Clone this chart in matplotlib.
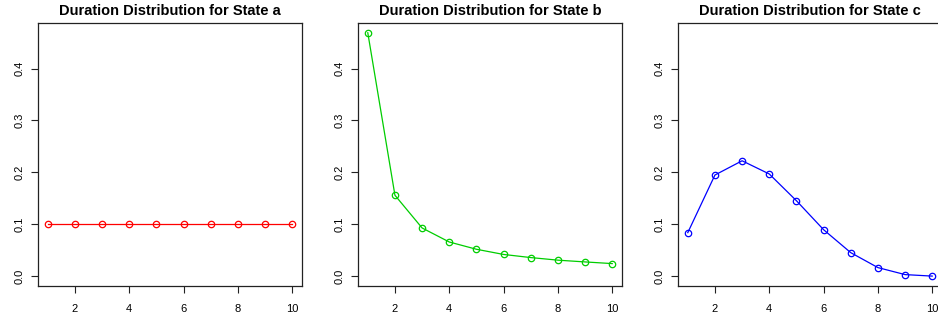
import numpy as np
import matplotlib
matplotlib.use("Agg")
from matplotlib import pyplot as plt

plt.rcParams["font.family"] = ["Liberation Sans", "DejaVu Sans"]

# duracao (eixo x) e probabilidades de cada estado
duracao = [1, 2, 3, 4, 5, 6, 7, 8, 9, 10]
estado_a = [0.1, 0.1, 0.1, 0.1, 0.1, 0.1, 0.1, 0.1, 0.1, 0.1]
estado_b = [0.469, 0.156, 0.093, 0.066, 0.052, 0.042, 0.036, 0.031, 0.0276, 0.0244]
estado_c = [0.084, 0.195, 0.2224, 0.197, 0.1455, 0.0897, 0.0455, 0.0167, 0.0032, 0.0003]

estados = ["a", "b", "c"]
series = [estado_a, estado_b, estado_c]
cores = ["#FF0000", "#00CD00", "#0000FF"]

xticks = [2, 4, 6, 8, 10]
yticks = [0.0, 0.1, 0.2, 0.3, 0.4]

W, H = 938, 322
fig = plt.figure(figsize=(W / 100, H / 100), dpi=100)

ymax = max(max(s) for s in series)
ypad = ymax * 0.04
xpad = (duracao[-1] - duracao[0]) * 0.04

for i, (nome, valores, cor) in enumerate(zip(estados, series, cores)):
    left = 38 + 320 * i
    ax = fig.add_axes([left / W, 36 / H, 264 / W, 263 / H])
    ax.plot(duracao, valores, color=cor, lw=0.9, marker="o", ms=4.6,
            mfc="none", mec=cor, mew=0.9)
    ax.set_xlim(duracao[0] - xpad, duracao[-1] + xpad)
    ax.set_ylim(-ypad, ymax + ypad)
    ax.set_xticks(xticks)
    ax.set_yticks(yticks)
    ax.set_yticklabels([f"{v:.1f}" for v in yticks], rotation=90, va="center")
    ax.tick_params(direction="out", length=5, width=0.8, labelsize=8,
                   color="#222222")
    ax.tick_params(axis="x", pad=8)
    ax.tick_params(axis="y", pad=4.5)
    for s in ax.spines.values():
        s.set_linewidth(0.9)
        s.set_color("#222222")
    ax.set_title(f"Duration Distribution for State {nome}", fontsize=10.5,
                 fontweight="bold", pad=6)

fig.savefig("out.png", dpi=100)
